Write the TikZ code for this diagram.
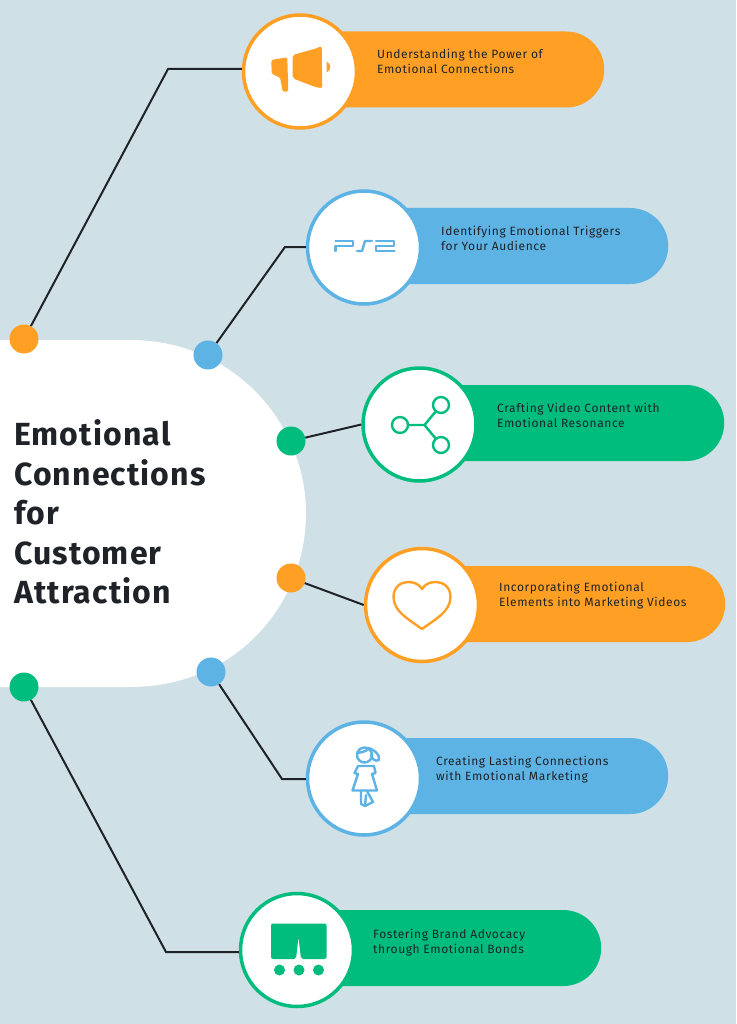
\documentclass[tikz,border=0pt]{standalone}
\usepackage{fontspec}
\setmainfont{Fira Sans}
\newfontfamily\capfont[LetterSpace=5]{Fira Sans}
\newfontfamily\headfont[LetterSpace=3.5,BoldFont={Fira Sans Bold}]{Fira Sans}
\usetikzlibrary{shapes.misc}
\definecolor{bgblue}{HTML}{CFE0E6}
\definecolor{myorange}{HTML}{FFA025}
\definecolor{myblue}{HTML}{5CB3E4}
\definecolor{mygreen}{HTML}{00BD7E}
\definecolor{myink}{HTML}{1F2328}
\tikzset{
  pill/.style={rounded rectangle,rounded rectangle west arc=none,anchor=west,minimum height=76pt,inner sep=0pt},
  ring/.style={circle,draw=#1,line width=3.5pt,fill=white,minimum size=113pt,inner sep=0pt},
  dot/.style={circle,fill=#1,minimum size=29pt,inner sep=0pt},
  caption/.style={anchor=west,align=left,text=myink,font=\capfont\fontsize{12}{15}\selectfont,inner sep=0pt},
  link/.style={line width=2pt,draw=myink},
  icon/.style={line width=2.4pt,draw=#1,line join=round,line cap=round},
}
\begin{document}
\begin{tikzpicture}[x=1pt,y=-1pt]
  \useasboundingbox (0,0) rectangle (736,1024);
  \fill[bgblue] (0,0) rectangle (736,1024);
  % centre shape
  \fill[white] (0,340)--(130,340) .. controls (235,340) and (306,425) .. (306,513)
     .. controls (306,605) and (235,687) .. (130,687)--(0,687)--cycle;
  \node[font=\headfont\fontsize{32}{39.4}\selectfont\bfseries,text=myink,align=left,anchor=west,inner sep=0pt] (title) at (14,512)
     {Emotional\\Connections\\for\\Customer\\Attraction};
  % bars
  \node[pill,fill=myorange,minimum width=304pt] (bar1) at (300,69.5) {};
  \node[pill,fill=myblue,minimum width=304pt] (bar2) at (364,246) {};
  \node[pill,fill=mygreen,minimum width=304pt] (bar3) at (420,423) {};
  \node[pill,fill=myorange,minimum width=303pt] (bar4) at (422,604) {};
  \node[pill,fill=myblue,minimum width=304pt] (bar5) at (364,776) {};
  \node[pill,fill=mygreen,minimum width=304pt] (bar6) at (297,948) {};
  % circles
  \node[ring=myorange] (c1) at (300,71.5) {};
  \node[ring=myblue] (c2) at (364,247.5) {};
  \node[ring=mygreen] (c3) at (419.5,424.5) {};
  \node[ring=myorange] (c4) at (422,605) {};
  \node[ring=myblue] (c5) at (364,778.5) {};
  \node[ring=mygreen] (c6) at (297,950) {};
  % dots
  \node[dot=myorange] (d1) at (24,339) {};
  \node[dot=myblue] (d2) at (208,355) {};
  \node[dot=mygreen] (d3) at (291,441) {};
  \node[dot=myorange] (d4) at (291,578) {};
  \node[dot=myblue] (d5) at (211,672) {};
  \node[dot=mygreen] (d6) at (24,687) {};
  % links
  \coordinate (k1) at (168,69);
  \coordinate (k2) at (285,247);
  \coordinate (k5) at (282,779);
  \coordinate (k6) at (166,952);
  \draw[link] (d1)--(k1)--(c1.west|-k1);
  \draw[link] (d2)--(k2)--(c2.west|-k2);
  \draw[link] (d3)--(c3.west);
  \draw[link] (d4)--(c4.west);
  \draw[link] (d5)--(k5)--(c5.west|-k5);
  \draw[link] (d6)--(k6)--(c6.west|-k6);
  % texts
  \node[caption] (t1) at (377,61.5) {Understanding the Power of\\Emotional Connections};
  \node[caption] (t2) at (441,238.5) {Identifying Emotional Triggers\\for Your Audience};
  \node[caption] (t3) at (497,415.5) {Crafting Video Content with\\Emotional Resonance};
  \node[caption] (t4) at (499,595.5) {Incorporating Emotional\\Elements into Marketing Videos};
  \node[caption] (t5) at (436,769.5) {Creating Lasting Connections\\with Emotional Marketing};
  \node[caption] (t6) at (373,942.5) {Fostering Brand Advocacy\\through Emotional Bonds};
  % megaphone
  \fill[myorange,rounded corners=1.5pt] (271.3,60)--(287.3,57.3)--(288.3,91.7)--(282.7,91.7)--(280,77.3)--(271.7,74)--cycle;
  \fill[myorange,rounded corners=2pt] (292.7,55)--(316.7,48.3)--(321.7,46)--(322.3,88)--(316.7,87.5)--(292.7,78.3)--cycle;
  \fill[myorange] (326.7,61.7) .. controls (331.5,63) and (331.5,71) .. (326.7,72.3)--cycle;
  % ps2
  \draw[icon=myblue] (335.5,241)--(353,241)--(353,246)--(337,246)--(335.5,246)--(335.5,251);
  \draw[icon=myblue] (357,251)--(362,251)--(365,241)--(372,241);
  \draw[icon=myblue] (376,241)--(394,241)--(394,246)--(376,246)--(376,251)--(394.5,251);
  % share
  \draw[icon=mygreen] (400,425)--(424.5,425)--(441,405);
  \draw[icon=mygreen] (424.5,425)--(441,445);
  \draw[icon=mygreen,fill=white] (400,425) circle (8pt);
  \draw[icon=mygreen,fill=white] (441,405) circle (8pt);
  \draw[icon=mygreen,fill=white] (441,445) circle (8pt);
  % heart
  \draw[icon=myorange] (422,629) .. controls (410,620) and (393.5,612) .. (393.5,597)
     .. controls (393.5,587) and (401,582) .. (408,582) .. controls (414,582) and (419,584) .. (422,589)
     .. controls (425,584) and (430,582) .. (436,582) .. controls (443,582) and (450.5,587) .. (450.5,597)
     .. controls (450.5,612) and (434,620) .. (422,629)--cycle;
  % girl
  \draw[icon=myblue] (364.5,755) circle (7.5pt);
  \draw[icon=myblue] (357,753) .. controls (365,752) and (368,750) .. (369,748);
  \draw[icon=myblue] (369,748) .. controls (374,750) and (380,754) .. (379,760) .. controls (375,762) and (372,759) .. (371,755);
  \draw[icon=myblue] (358,766)--(374,766)--(375.5,773)--(372,774)--(377,790.5)--(352.5,790.5)--(358,774)--(354.5,773)--cycle;
  \draw[icon=myblue] (361,791)--(361,804)--(365,806)--(366,795);
  \draw[icon=myblue] (367,791)--(373,802)--(365,806);
  % store
  \fill[mygreen,rounded corners=2pt] (271,923.5)--(326.5,923.5)--(326.5,959)--(301,959)--(298.5,937)--(296,959)--(271,959)--cycle;
  \fill[mygreen] (279.5,970) circle (5.5pt) (299,970) circle (5.5pt) (318.5,970) circle (5.5pt);
\end{tikzpicture}
\end{document}
